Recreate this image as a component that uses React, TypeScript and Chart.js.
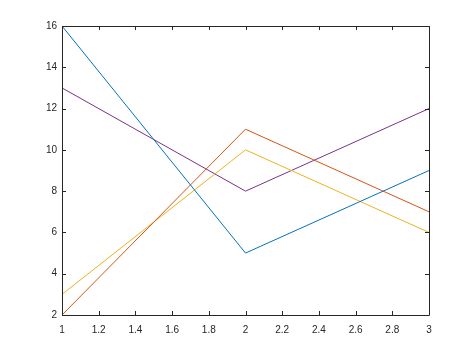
import React, { useEffect, useRef } from "react";
import { Chart, registerables } from "chart.js";

Chart.register(...registerables);

const xValues = [1, 2, 3];
const blueSeries = [16, 5, 9];
const orangeSeries = [2, 11, 7];
const yellowSeries = [3, 10, 6];
const purpleSeries = [13, 8, 12];

const seriesColors = ["#0072BD", "#D95319", "#EDB120", "#7E2F8E"];
const allSeries = [blueSeries, orangeSeries, yellowSeries, purpleSeries];

const axisColor = "#262626";

const boxPlugin = {
  id: "matlabBox",
  afterDatasetsDraw(chart: any) {
    const { ctx, chartArea } = chart;
    const { left, right, top, bottom } = chartArea;
    const xs = chart.scales.x;
    const ys = chart.scales.y;
    const tl = 4;
    ctx.save();
    ctx.strokeStyle = axisColor;
    ctx.lineWidth = 1;
    ctx.beginPath();
    ctx.rect(Math.round(left) + 0.5, Math.round(top) + 0.5, Math.round(right - left), Math.round(bottom - top));
    ctx.stroke();
    ctx.beginPath();
    xs.ticks.forEach((t: any) => {
      const px = Math.round(xs.getPixelForValue(t.value)) + 0.5;
      ctx.moveTo(px, bottom);
      ctx.lineTo(px, bottom - tl);
      ctx.moveTo(px, top);
      ctx.lineTo(px, top + tl);
    });
    ys.ticks.forEach((t: any) => {
      const py = Math.round(ys.getPixelForValue(t.value)) + 0.5;
      ctx.moveTo(left, py);
      ctx.lineTo(left + tl, py);
      ctx.moveTo(right, py);
      ctx.lineTo(right - tl, py);
    });
    ctx.stroke();
    ctx.restore();
  },
};

export default function App() {
  const canvasRef = useRef<HTMLCanvasElement>(null);

  useEffect(() => {
    document.body.style.margin = "0";
    const canvas = canvasRef.current;
    if (!canvas) return;
    const chart = new Chart(canvas, {
      type: "line",
      data: {
        datasets: allSeries.map((s, i) => ({
          data: s.map((v, j) => ({ x: xValues[j], y: v })),
          borderColor: seriesColors[i],
          backgroundColor: seriesColors[i],
          borderWidth: 1,
          pointRadius: 0,
          tension: 0,
          fill: false,
        })),
      },
      options: {
        responsive: false,
        animation: false,
        events: [],
        layout: { padding: { top: 26, right: 45, left: 0, bottom: 0 } },
        plugins: { legend: { display: false }, tooltip: { enabled: false } },
        scales: {
          x: {
            type: "linear",
            min: 1,
            max: 3,
            grid: { display: false, drawTicks: false },
            border: { display: false },
            ticks: {
              stepSize: 0.2,
              autoSkip: false,
              maxRotation: 0,
              padding: 9,
              color: axisColor,
              font: { family: "Liberation Sans, Arial, sans-serif", size: 10 },
              callback: (v: any) => String(Math.round(Number(v) * 10) / 10),
            },
            afterFit: (scale: any) => {
              scale.height = 40;
            },
          },
          y: {
            type: "linear",
            min: 2,
            max: 16,
            grid: { display: false, drawTicks: false },
            border: { display: false },
            ticks: {
              stepSize: 2,
              autoSkip: false,
              padding: 5,
              color: axisColor,
              font: { family: "Liberation Sans, Arial, sans-serif", size: 10 },
            },
            afterFit: (scale: any) => {
              scale.width = 62;
            },
          },
        },
      },
      plugins: [boxPlugin],
    });
    return () => chart.destroy();
  }, []);

  return (
    <div style={{ position: "absolute", left: 0, top: 0, width: 474, height: 355, background: "#fff" }}>
      <canvas ref={canvasRef} width={474} height={355} style={{ width: 474, height: 355 }} />
    </div>
  );
}
